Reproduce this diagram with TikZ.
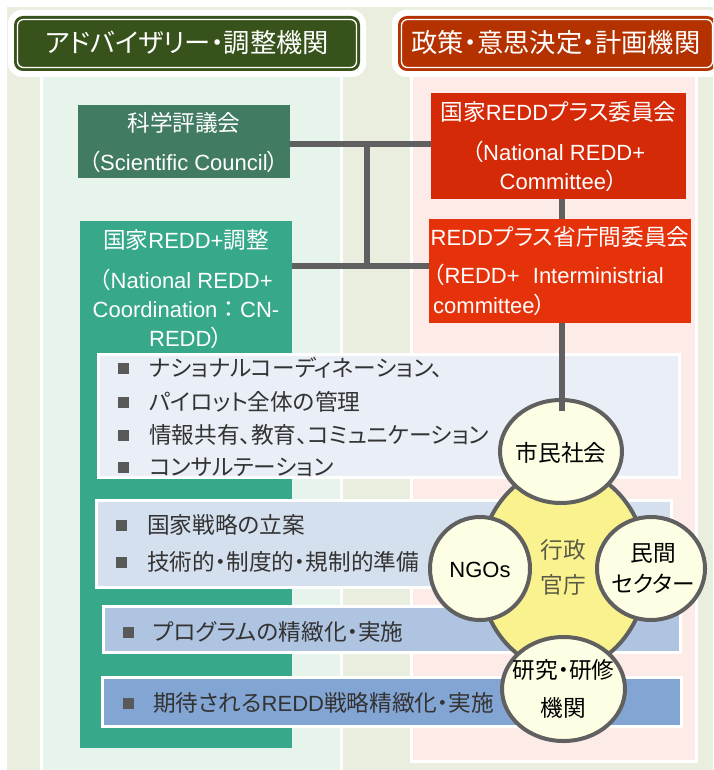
\documentclass[tikz,border=0pt]{standalone}
\usepackage{fontspec}
\setmainfont{Liberation Sans}
\newfontfamily\jpfont[RawFeature=+palt, Scale=1.03]{Noto Sans CJK JP}
\newfontfamily\jpfull[Scale=1.03]{Noto Sans CJK JP}
\newcommand\jtxt[1]{{\jpfont #1}}
\usetikzlibrary{shapes.geometric}
\definecolor{bgG}{RGB}{234,238,222}
\definecolor{hdrG}{RGB}{55,82,26}
\definecolor{hdrR}{RGB}{180,50,0}
\definecolor{mintP}{RGB}{230,244,236}
\definecolor{pinkP}{RGB}{253,235,232}
\definecolor{sciG}{RGB}{64,123,98}
\definecolor{tealG}{RGB}{55,169,138}
\definecolor{redA}{RGB}{212,42,8}
\definecolor{redB}{RGB}{230,50,10}
\definecolor{bxA}{RGB}{234,238,246}
\definecolor{bxB}{RGB}{213,224,238}
\definecolor{bxC}{RGB}{174,196,225}
\definecolor{bxD}{RGB}{131,165,211}
\definecolor{lineG}{RGB}{96,96,96}
\definecolor{creamC}{RGB}{254,254,228}
\definecolor{yelC}{RGB}{250,242,142}
\definecolor{txtG}{RGB}{51,51,51}
\definecolor{bulG}{RGB}{89,89,89}
\definecolor{govT}{RGB}{90,90,70}
\tikzset{
  boxn/.style={inner sep=0pt, outer sep=0pt, anchor=north west},
  wtext/.style={text=white, inner sep=0pt, font=\fontsize{22}{26}\selectfont},
  wmulti/.style={text=white, inner sep=0pt, font=\fontsize{22}{29}\selectfont},
  hdtext/.style={text=white, inner sep=0pt, font=\fontsize{25.5}{30}\selectfont},
  bbox/.style={draw=white, line width=3pt, inner sep=0pt, outer sep=0pt},
  btext/.style={text=txtG, inner sep=0pt, anchor=west, font=\fontsize{22}{26}\selectfont},
  bul/.style={fill=bulG, inner sep=0pt, minimum size=11pt},
  conn/.style={draw=lineG, line width=5.5pt},
  ell/.style={ellipse, draw=lineG, line width=4pt, fill=creamC, inner sep=0pt},
  ctext/.style={text=black, inner sep=0pt, align=center, font=\fontsize{22}{26}\selectfont},
}
\begin{document}
\begin{tikzpicture}[x=1pt,y=-1pt]
\clip (0,0) rectangle (713,770);
\fill[white] (0,0) rectangle (713,770);
\fill[bgG] (7,7) rectangle (713,770);
% column panels
\fill[white] (40,70) rectangle (343,770);
\fill[mintP] (43,70) rectangle (340,770);
\fill[white] (410,70) rectangle (698,763);
\fill[pinkP] (413,70) rectangle (695,760);
% headers
\fill[white, rounded corners=14pt] (8,10) rectangle (366,77);
\fill[hdrG, rounded corners=9pt] (14,16) rectangle (360,71);
\draw[white, line width=1.3pt, rounded corners=6pt] (17.5,19.5) rectangle (356.5,67.5);
\node[hdtext] (hL) at (187,43) {\jtxt{アドバイザリー・調整機関}};
\fill[white, rounded corners=14pt] (392,10) rectangle (722,77);
\fill[hdrR, rounded corners=9pt] (398,16) rectangle (716,71);
\draw[white, line width=1.3pt, rounded corners=6pt] (401.5,19.5) rectangle (712.5,67.5);
\node[hdtext] (hR) at (556,43) {\jtxt{政策・意思決定・計画機関}};
% left boxes
\node[boxn, fill=sciG, minimum width=212pt, minimum height=73pt] (sci) at (78,105) {};
\node[wtext] (sciT1) at (184,123) {\jtxt{科学評議会}};
\node[wtext] (sciT2) at (184,162) {\jtxt{（}Scientific Council\jtxt{）}};
\node[boxn, fill=tealG, minimum width=212pt, minimum height=527pt] (teal) at (80,221) {};
\node[wtext] (tealT1) at (186,240) {\jtxt{国家}REDD+\jtxt{調整}};
\node[wmulti, align=center] (tealT2) at (186,308.5) {\jtxt{（}National REDD+\\Coordination{\jpfull ：}CN-\\REDD\jtxt{）}};
% right boxes
\node[boxn, fill=redA, minimum width=255pt, minimum height=106pt] (red1) at (431,93) {};
\node[wtext] (r1T1) at (558.5,112) {\jtxt{国家}REDD\jtxt{プラス委員会}};
\node[wmulti, align=center] (r1T2) at (558.5,166.5) {\jtxt{（}National REDD+\\Committee\jtxt{）}};
\node[boxn, fill=redB, minimum width=262pt, minimum height=104pt] (red2) at (429,219) {};
\node[wtext] (r2T1) at (560,237) {REDD\jtxt{プラス省庁間委員会}};
\node[wmulti, align=left, anchor=west, font=\fontsize{22}{30}\selectfont] (r2T2) at (433,290) {\jtxt{（}REDD+\hspace{0.6em}Interministrial\\committee\jtxt{）}};
% bullet boxes
\node[bbox, fill=bxA, minimum width=581pt, minimum height=123pt] (bA) at (389,416) {};
\node[bul] (bA1) at (123,368) {};
\node[btext] (tA1) at (149,368) {\jtxt{ナショナルコーディネーション、}};
\node[bul] (bA2) at (123,402) {};
\node[btext] (tA2) at (149,402) {\jtxt{パイロット全体の管理}};
\node[bul] (bA3) at (123,435) {};
\node[btext] (tA3) at (149,435) {\jtxt{情報共有、教育、コミュニケーション}};
\node[bul] (bA4) at (123,467) {};
\node[btext] (tA4) at (149,467) {\jtxt{コンサルテーション}};
\node[bbox, fill=bxB, minimum width=575pt, minimum height=87pt] (bB) at (384,544) {};
\node[bul] (bB1) at (121,525) {};
\node[btext] (tB1) at (147,525) {\jtxt{国家戦略の立案}};
\node[bul] (bB2) at (121,562) {};
\node[btext] (tB2) at (147,562) {\jtxt{技術的・制度的・規制的準備}};
\node[bbox, fill=bxC, minimum width=577pt, minimum height=46pt] (bC) at (392,629.5) {};
\node[bul] (bC1) at (128,632) {};
\node[btext] (tC1) at (153,632) {\jtxt{プログラムの精緻化・実施}};
\node[bbox, fill=bxD, minimum width=579pt, minimum height=49pt] (bD) at (392,702) {};
\node[bul] (bD1) at (128,703) {};
\node[btext] (tD1) at (153,703) {\jtxt{期待される}REDD\jtxt{戦略精緻化・実施}};
% connectors
\coordinate (j1) at (367,144);
\coordinate (j2) at (367,266);
\coordinate (vx) at (562,0);
\draw[conn] (sci.east |- j1) -- (red1.west |- j1);
\draw[conn] (teal.east |- j2) -- (red2.west |- j2);
\draw[conn] (j1) -- (j2);
\draw[conn] (red1.south -| vx) -- (red2.north -| vx);
% circle cluster
\node[ellipse, draw=lineG, line width=4pt, fill=yelC, inner sep=0pt, minimum width=168pt, minimum height=202pt] (gov) at (563,569) {};
\node[ctext, text=govT] (govT1) at (563,567.5) {\jtxt{行政}\\[9pt]\jtxt{官庁}};
\node[ell, minimum width=122pt, minimum height=103pt] (civ) at (561,451.5) {};
\node[ctext] (civT) at (561,453) {\jtxt{市民社会}};
\node[ell, minimum width=100pt, minimum height=103pt] (ngo) at (480,568.5) {};
\node[ctext] (ngoT) at (480,570) {NGOs};
\node[ell, minimum width=108pt, minimum height=103pt] (pri) at (651,568.5) {};
\node[ctext] (priT) at (653,568.5) {\jtxt{民間}\\[5pt]\jtxt{セクター}};
\node[ell, minimum width=123pt, minimum height=104pt] (res) at (563.5,689) {};
\node[ctext] (resT) at (563.5,689) {\jtxt{研究・研修}\\[12pt]\jtxt{機関}};
\coordinate (civtop) at ([yshift=-13pt]civ.north);
\draw[conn] (red2.south -| vx) -- (civtop -| vx);
\end{tikzpicture}
\end{document}
